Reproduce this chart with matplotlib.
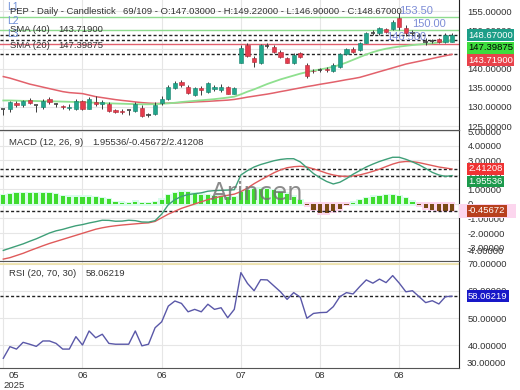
import numpy as np
import matplotlib
matplotlib.use("Agg")
import matplotlib.pyplot as plt
from matplotlib.patches import Rectangle

plt.rcParams['font.family'] = ['Liberation Sans', 'DejaVu Sans']

# ---- price data (daily candles) ----
opens = [129.44, 129.5, 131.1, 130.4, 131.8, 130.5, 130.0, 132.0, 130.8, 130.2,
         129.7, 129.6, 131.6, 129.6, 131.35, 130.9, 130.9, 129.2, 129.0, 129.1,
         129.0, 129.8, 128.0, 128.3, 131.0, 132.2, 134.85, 136.6, 135.3, 133.1,
         134.85, 134.0, 134.6, 134.5, 135.3, 133.5, 141.5, 146.15, 142.9, 141.5,
         146.0, 145.55, 144.4, 142.7, 141.4, 144.0, 140.9, 139.5, 139.6, 140.0,
         139.4, 140.5, 143.8, 145.0, 144.85, 146.75, 149.2, 149.2, 150.3, 150.25,
         153.1, 150.5, 149.4, 148.6, 147.0, 147.2, 147.7, 147.0, 147.03]
highs = [129.6, 131.6, 131.6, 131.8, 132.3, 130.6, 132.0, 132.5, 131.1, 130.5,
         130.7, 132.0, 131.9, 132.6, 132.8, 131.8, 131.3, 129.5, 129.4, 129.3,
         131.3, 130.5, 128.4, 131.4, 132.9, 135.7, 136.75, 137.1, 135.7, 135.2,
         135.6, 136.6, 135.8, 136.0, 135.6, 135.3, 146.2, 146.6, 143.3, 146.4,
         146.75, 146.15, 144.85, 142.95, 144.0, 144.4, 141.6, 140.0, 140.1, 140.3,
         141.4, 144.0, 145.3, 145.7, 147.0, 149.6, 150.1, 150.9, 150.5, 152.7,
         154.4, 151.4, 150.1, 149.2, 147.9, 147.8, 148.0, 149.2, 149.22]
lows = [127.9, 128.8, 130.0, 130.0, 130.8, 128.7, 129.5, 130.8, 130.0, 129.4,
        129.2, 129.2, 129.3, 129.4, 130.2, 129.6, 128.6, 128.4, 128.3, 127.9,
        128.6, 127.3, 127.4, 127.9, 130.6, 131.8, 134.6, 135.2, 133.4, 132.9,
        133.0, 133.7, 134.1, 133.8, 133.3, 133.3, 141.4, 143.1, 140.3, 141.3,
        145.3, 144.15, 142.7, 141.4, 141.1, 142.7, 137.5, 138.8, 139.0, 139.2,
        139.2, 140.1, 143.5, 144.0, 144.7, 146.6, 148.8, 148.8, 149.2, 150.1,
        150.1, 148.5, 148.5, 148.0, 146.2, 146.7, 146.8, 146.8, 146.9]
closes = [129.44, 131.2, 130.4, 131.6, 131.1, 130.5, 131.6, 131.35, 130.8, 129.9,
          130.0, 131.6, 129.6, 132.2, 130.75, 131.2, 129.0, 128.6, 128.8, 129.1,
          130.8, 127.75, 128.0, 130.5, 132.1, 135.1, 136.15, 135.7, 133.7, 134.85,
          134.4, 136.2, 135.3, 135.2, 133.5, 135.0, 145.3, 143.3, 141.8, 146.15,
          146.0, 144.4, 143.1, 141.6, 143.5, 143.1, 138.1, 139.3, 139.6, 139.7,
          140.9, 143.7, 145.0, 144.4, 146.75, 149.4, 149.2, 150.5, 149.6, 152.2,
          150.9, 149.2, 149.4, 148.6, 147.0, 147.2, 147.0, 148.7, 148.67]

sma20 = [131.7, 131.7, 131.65, 131.6, 131.6, 131.55, 131.5, 131.5, 131.45, 131.4,
         131.35, 131.3, 131.25, 131.2, 131.1, 131.0, 130.95, 130.9, 130.85, 130.8,
         130.75, 130.7, 130.7, 130.75, 130.85, 130.95, 131.1, 131.3, 131.45, 131.6,
         131.75, 131.9, 132.05, 132.25, 132.45, 132.7, 133.3, 134.0, 134.6, 135.3,
         136.0, 136.6, 137.2, 137.7, 138.2, 138.7, 139.1, 139.5, 139.8, 140.1,
         140.5, 141.0, 141.6, 142.3, 143.0, 143.7, 144.3, 144.8, 145.2, 145.5,
         145.75, 145.95, 146.15, 146.3, 146.45, 146.6, 146.85, 147.1, 147.39875]
sma40 = [137.93, 137.53, 137.01, 136.49, 135.97, 135.58, 135.18, 134.79, 134.40, 134.01,
         133.75, 133.62, 133.49, 133.10, 132.70, 132.44, 132.18, 131.92, 131.71, 131.53,
         131.32, 131.14, 131.01, 130.93, 130.93, 131.01, 131.06, 131.14, 131.22, 131.32,
         131.40, 131.48, 131.58, 131.69, 131.79, 131.97, 132.26, 132.57, 132.83, 133.10,
         133.36, 133.67, 134.01, 134.32, 134.66, 134.98, 135.32, 135.60, 135.92, 136.20,
         136.49, 136.80, 137.12, 137.40, 137.72, 138.21, 138.71, 139.21, 139.70, 140.20,
         140.69, 141.19, 141.56, 141.92, 142.29, 142.65, 143.02, 143.38, 143.719]

# ---- MACD (12, 26, 9) ----
macd = [-3.2, -3.05, -2.9, -2.75, -2.57, -2.4, -2.2, -2.0, -1.85, -1.75,
        -1.62, -1.5, -1.42, -1.31, -1.22, -1.12, -1.13, -1.19, -1.18, -1.12,
        -1.15, -1.24, -1.25, -1.15, -0.7, -0.05, 0.3, 0.52, 0.65, 0.71,
        0.77, 0.88, 0.92, 0.94, 0.96, 0.98, 2.0, 2.3, 2.55, 2.72,
        2.85, 2.98, 3.07, 3.12, 3.12, 2.9, 2.5, 2.1, 1.8, 1.55,
        1.38, 1.5, 1.75, 2.05, 2.3, 2.55, 2.75, 2.93, 3.08, 3.22,
        3.22, 3.08, 2.9, 2.7, 2.45, 2.18, 2.0, 1.9, 1.95536]
signal = [-3.8, -3.7, -3.55, -3.4, -3.22, -3.05, -2.88, -2.72, -2.58, -2.44,
          -2.3, -2.16, -2.02, -1.88, -1.74, -1.64, -1.56, -1.5, -1.45, -1.41,
          -1.37, -1.33, -1.3, -1.2, -0.95, -0.7, -0.5, -0.3, -0.15, 0.0,
          0.15, 0.3, 0.42, 0.52, 0.6, 0.68, 0.85, 1.1, 1.4, 1.66,
          1.9, 2.15, 2.35, 2.5, 2.57, 2.6, 2.55, 2.42, 2.28, 2.12,
          2.0, 1.92, 1.9, 1.93, 2.0, 2.12, 2.25, 2.4, 2.58, 2.75,
          2.88, 2.93, 2.92, 2.85, 2.75, 2.65, 2.55, 2.48, 2.41208]
hist = [0.62, 0.69, 0.74, 0.74, 0.76, 0.76, 0.74, 0.74, 0.69, 0.53,
        0.5, 0.5, 0.5, 0.5, 0.46, 0.41, 0.34, 0.11, 0.09, 0.07,
        0.16, 0.07, 0.05, 0.11, 0.3, 0.6, 0.75, 0.85, 0.8, 0.72,
        0.65, 0.6, 0.55, 0.55, 0.5, 0.45, 0.8, 0.95, 1.05, 1.05,
        1.0, 0.95, 0.85, 0.7, 0.5, 0.25, -0.08, -0.4, -0.65, -0.65,
        -0.5, -0.35, -0.06, 0.1, 0.25, 0.4, 0.5, 0.55, 0.6, 0.62,
        0.55, 0.4, 0.16, -0.08, -0.3, -0.4, -0.45, -0.45, -0.45672]

# ---- RSI (20) ----
rsi = [35.1, 39.4, 38.5, 41.0, 40.3, 39.5, 41.5, 41.5, 40.6, 38.5,
       38.5, 43.1, 40.0, 45.2, 42.7, 44.0, 40.6, 40.3, 40.3, 40.3,
       45.2, 39.7, 40.3, 46.4, 48.6, 54.4, 56.3, 55.4, 52.3, 53.2,
       52.3, 55.1, 53.2, 53.8, 50.1, 53.2, 66.8, 62.8, 60.1, 64.2,
       64.1, 61.9, 59.7, 56.9, 59.4, 57.7, 49.9, 51.7, 52.0, 52.1,
       54.2, 57.9, 59.4, 58.9, 61.6, 64.1, 62.9, 64.4, 63.1, 65.7,
       62.9, 59.7, 60.1, 57.9, 55.7, 56.4, 55.2, 57.9, 58.06219]

xtick_pos = [0, 12, 24, 36, 48, 60]
xtick_labels = ['05\n2025', '06', '06', '07', '08', '08']

price_ticks = [125, 130, 135, 140, 145, 150, 155]
macd_ticks = [-3, -2, -1, 0, 1, 2, 3, 4, 5]
rsi_ticks = [40, 50, 60, 70]

levels = [153.5, 150.0, 146.5]
level_names = ['L1', 'L2', 'L3']
level_texts = ['153.50', '150.00', '146.500']
level_bars = [60, 62, 58]
level_colors = ['#8fdc8f', '#8fdc8f', '#e2616f']

W, H = 520, 390
FS = 6.8
TXT = '#333333'
UP, DOWN = '#21a68b', '#e53b4c'

fig = plt.figure(figsize=(W / 100, H / 100), dpi=100)


def rect(top, bottom):
    return [0, 1 - bottom / H, 459 / W, (bottom - top) / H]


ax_p = fig.add_axes(rect(0, 130))
ax_m = fig.add_axes(rect(130, 261), sharex=ax_p)
ax_r = fig.add_axes(rect(261, 368), sharex=ax_p)

idx = np.arange(len(closes))
o = np.array(opens)
c = np.array(closes)
hi = np.array(highs)
lo = np.array(lows)
h = np.array(hist)

for ax in (ax_p, ax_m, ax_r):
    ax.set_facecolor('white')
    ax.grid(True, color='#e6e6e6', lw=0.8)
    ax.set_axisbelow(True)
    ax.yaxis.tick_right()
    ax.tick_params(axis='y', length=0, pad=6, labelsize=FS, labelcolor=TXT)
    ax.tick_params(axis='x', length=0, labelsize=FS, labelcolor=TXT)
    ax.spines['left'].set_visible(False)
    ax.spines['right'].set_color('#222222')
    ax.spines['top'].set_color('#555555')
    ax.spines['bottom'].set_color('#555555')
ax_p.spines['top'].set_visible(False)

ax_p.set_xlim(-0.5, 69.05)
ax_p.set_xticks(xtick_pos)
ax_p.tick_params(labelbottom=False)
ax_m.tick_params(labelbottom=False)

# ---- price panel ----
ax_p.set_ylim(124.0, 157.9)
ax_p.set_yticks(price_ticks)
ax_p.set_yticklabels([f'{t:.5f}' for t in price_ticks])

for lv, col in zip(levels, level_colors):
    ax_p.axhline(lv, color=col, lw=1.0, zorder=2)

dots = (0, (2.2, 1.6))
for v in (closes[-1], sma20[-1], sma40[-1]):
    ax_p.axhline(v, color='#222222', lw=1.0, ls=dots, zorder=2)

ax_p.plot(idx, sma40, color='#e2616b', lw=1.1, zorder=3)
ax_p.plot(idx, sma20, color='#8fe08f', lw=1.3, zorder=3)

up = c > o
dn = c < o
flat = c == o
ax_p.vlines(idx, lo, hi, color='#3a3a3a', lw=0.7, zorder=4)
ax_p.bar(idx[up], (c - o)[up], bottom=o[up], width=0.62, color=UP,
         edgecolor='#17806c', lw=0.4, zorder=5)
ax_p.bar(idx[dn], (o - c)[dn], bottom=c[dn], width=0.62, color=DOWN,
         edgecolor='#b22a39', lw=0.4, zorder=5)
ax_p.hlines(c[flat], idx[flat] - 0.33, idx[flat] + 0.33, color='#444444', lw=1.2, zorder=5)

for lv, name, txt, bar in zip(levels, level_names, level_texts, level_bars):
    ax_p.annotate(name, xy=(0, lv), xycoords=('axes fraction', 'data'),
                  xytext=(5, 7), textcoords='offset points', fontsize=7.5,
                  color='#7090d8', ha='left', va='center', zorder=6)
    ax_p.annotate(txt, xy=(bar, lv), xytext=(0, 4.5), textcoords='offset points',
                  fontsize=8, color='#6f80d2', alpha=0.9, ha='left', va='center', zorder=6)

# ---- MACD panel ----
ax_m.set_ylim(-3.93, 5.1)
ax_m.set_yticks(macd_ticks)
ax_m.set_yticklabels(['0' if t == 0 else f'{t:.5f}' for t in macd_ticks])
pos = h >= 0
ax_m.bar(idx[pos], h[pos] + 0.22, bottom=-0.12, width=1.0, color='#dafcec', zorder=1)
ax_m.bar(idx[~pos], h[~pos] - 0.22, bottom=0.12, width=1.0, color='#fcd6ee', zorder=1)
ax_m.bar(idx, h, width=0.62, color=np.where(pos, '#3fdc2e', '#7a4a16'), zorder=2)
for v in (signal[-1], macd[-1], hist[-1]):
    ax_m.axhline(v, color='#222222', lw=1.0, ls=dots, zorder=3)
ax_m.plot(idx, signal, color='#df5a5a', lw=1.0, zorder=4)
ax_m.plot(idx, macd, color='#3f9f78', lw=1.0, zorder=4)
ax_m.text(0.56, 0.52, 'Arincen', transform=ax_m.transAxes, fontsize=17.5,
          family='DejaVu Sans', color='#707070', alpha=0.8, ha='center', va='center', zorder=6)
ax_m.text(1 + 8 / 459, 9 / 131, '-4.00000', transform=ax_m.transAxes, fontsize=FS,
          color=TXT, ha='left', va='center')
# pink halo behind the histogram value box
ax_m.add_patch(Rectangle((1.0, 43 / 131), 57 / 459, 14 / 131, transform=ax_m.transAxes,
                         fc='#fcd6ee', ec='none', clip_on=False, zorder=8))

# ---- RSI panel ----
ax_r.set_ylim(31.5, 71.1)
ax_r.set_yticks(rsi_ticks)
ax_r.set_yticklabels([f'{t:.5f}' for t in rsi_ticks])
ax_r.axhline(70, color='#efe2a6', lw=1.2, zorder=2)
ax_r.axhline(rsi[-1], color='#222222', lw=1.0, ls=dots, zorder=2)
ax_r.plot(idx, rsi, color='#5a58a8', lw=1.0, zorder=3)
ax_r.text(1 + 8 / 459, 5 / 107, '30.00000', transform=ax_r.transAxes, fontsize=FS,
          color=TXT, ha='left', va='center')
ax_r.set_xticklabels(xtick_labels)
ax_r.tick_params(axis='x', pad=2)
first = ax_r.get_xticklabels()[0]
first.set_ha('left')
first.set_multialignment('center')


# ---- value boxes on the right axis ----
def value_boxes(ax, top, bottom, items):
    lo_, hi_ = ax.get_ylim()
    hpx = bottom - top
    prev = -100
    for v, label, fc, tc in items:
        ypx = (hi_ - v) / (hi_ - lo_) * hpx
        ypx = max(ypx, prev + 12.5)
        prev = ypx
        ax.text(1 + 9 / 459, 1 - ypx / hpx, label, transform=ax.transAxes,
                fontsize=FS, color=tc, ha='left', va='center', zorder=10,
                bbox=dict(boxstyle='square,pad=0.15', fc=fc, ec='none'))


value_boxes(ax_p, 0, 130, [(closes[-1], '148.67000', '#1d9e88', 'white'),
                           (sma20[-1], '147.39875', '#3ddc3d', 'black'),
                           (sma40[-1], '143.71900', '#e8424a', 'white')])
value_boxes(ax_m, 130, 261, [(signal[-1], '2.41208', '#ef3333', 'white'),
                             (macd[-1], '1.95536', '#1c9a4c', 'white'),
                             (hist[-1], '-0.45672', '#b8401e', 'white')])
value_boxes(ax_r, 261, 368, [(rsi[-1], '58.06219', '#1818c8', 'white')])


# ---- header texts ----
def ftext(x, y, s):
    fig.text(x / W, 1 - y / H, s, fontsize=FS, color=TXT, ha='left', va='center', zorder=20)


ftext(10, 12, 'PEP - Daily - Candlestick')
ftext(123, 12, '69/109 - O:147.03000 - H:149.22000 - L:146.90000 - C:148.67000')
ftext(10, 29, 'SMA (40)')
ftext(58, 29, '143.71900')
ftext(10, 46, 'SMA (20)')
ftext(58, 46, '147.39875')
ftext(9, 142, 'MACD (12, 26, 9)')
ftext(92, 142, '1.95536/-0.45672/2.41208')
ftext(9, 274, 'RSI (20, 70, 30)')
ftext(86, 274, '58.06219')

fig.savefig('out.png', dpi=100)
